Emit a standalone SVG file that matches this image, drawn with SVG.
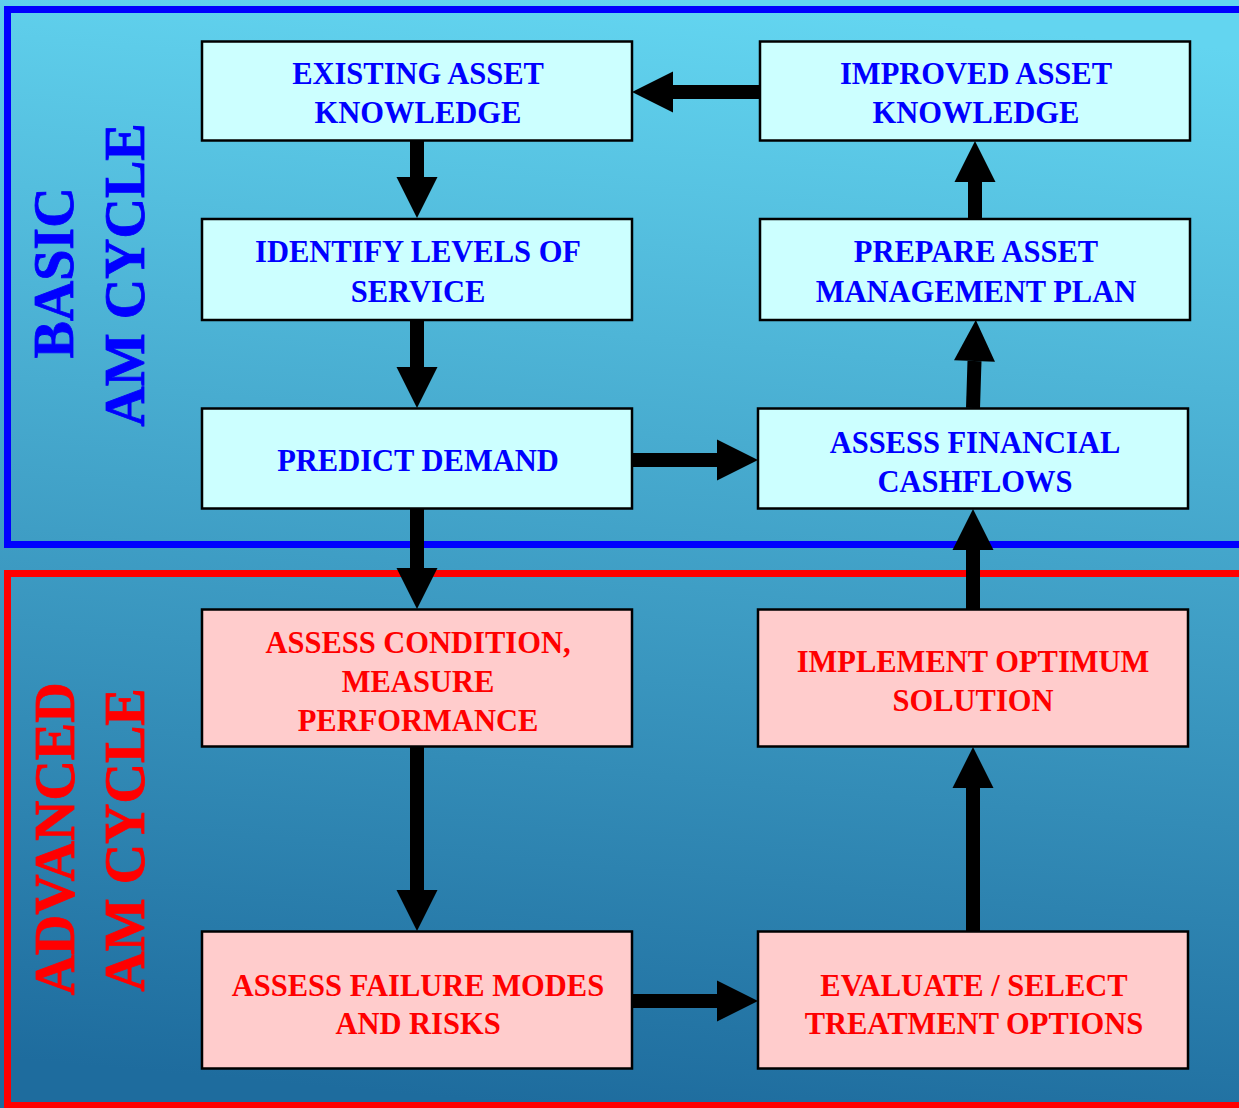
<svg xmlns="http://www.w3.org/2000/svg" width="1239" height="1108" viewBox="0 0 1239 1108">
  <defs>
    <linearGradient id="bg" x1="0.55" y1="0" x2="0.45" y2="1">
      <stop offset="0" stop-color="#63d5f0"/>
      <stop offset="1" stop-color="#1e6c9e"/>
    </linearGradient>
    <marker id="head" markerUnits="userSpaceOnUse" markerWidth="42" markerHeight="42" refX="0" refY="20.5" orient="auto" overflow="visible">
      <path d="M0,0 L41,20.5 L0,41 Z" fill="#000"/>
    </marker>
    <style>
      .basic { fill: #ccffff; stroke: #000; stroke-width: 2.5; }
      .adv { fill: #ffcccc; stroke: #000; stroke-width: 2.5; }
      .t { font-family: "Liberation Serif", "Times New Roman", serif; font-weight: 700; font-size: 30.5px; text-anchor: middle; }
      .tb { fill: #0000ff; }
      .tr { fill: #ff0000; }
      .side { font-family: "Liberation Serif", "Times New Roman", serif; font-weight: 700; font-size: 56px; text-anchor: middle; }
      .sb { fill: #0000ff; stroke: #0000ff; stroke-width: 0.8; }
      .sr { fill: #ff0000; stroke: #ff0000; stroke-width: 0.8; }
      .conn line { stroke: #000; stroke-width: 14; marker-end: url(#head); }
    </style>
  </defs>

  <!-- background -->
  <rect x="0" y="0" width="1239" height="1108" fill="url(#bg)"/>

  <!-- cycle frames -->
  <rect x="7.5" y="9.5" width="1240" height="535" fill="none" stroke="#0000ff" stroke-width="7"/>
  <rect x="7.5" y="573.5" width="1240" height="532" fill="none" stroke="#ff0000" stroke-width="7"/>

  <!-- side titles -->
  <g id="basic-label">
    <text class="side sb" transform="translate(73,273) rotate(-90)">BASIC</text>
    <text class="side sb" transform="translate(144,275) rotate(-90)">AM CYCLE</text>
  </g>
  <g id="advanced-label">
    <text class="side sr" transform="translate(74,839) rotate(-90)">ADVANCED</text>
    <text class="side sr" transform="translate(144,840) rotate(-90)">AM CYCLE</text>
  </g>

  <!-- connectors -->
  <g id="connectors" class="conn">
    <line x1="760" y1="92" x2="673" y2="92"/>
    <line x1="417" y1="141" x2="417" y2="177"/>
    <line x1="417" y1="320" x2="417" y2="367"/>
    <line x1="417" y1="509" x2="417" y2="568"/>
    <line x1="417" y1="747" x2="417" y2="890"/>
    <line x1="632" y1="1001" x2="717" y2="1001"/>
    <line x1="973" y1="931" x2="973" y2="788"/>
    <line x1="973" y1="609" x2="973" y2="550"/>
    <line x1="973" y1="408" x2="974.5" y2="361"/>
    <line x1="975" y1="218" x2="975" y2="182"/>
    <line x1="632" y1="460" x2="717" y2="460"/>
  </g>

  <!-- basic cycle nodes -->
  <g id="existing-knowledge">
    <rect class="basic" x="202" y="41.5" width="430" height="99"/>
    <text class="t tb" x="418" y="84">EXISTING ASSET</text>
    <text class="t tb" x="418" y="123">KNOWLEDGE</text>
  </g>
  <g id="improved-knowledge">
    <rect class="basic" x="760" y="41.5" width="430" height="99"/>
    <text class="t tb" x="976" y="84">IMPROVED ASSET</text>
    <text class="t tb" x="976" y="123">KNOWLEDGE</text>
  </g>
  <g id="levels-of-service">
    <rect class="basic" x="202" y="219" width="430" height="101"/>
    <text class="t tb" x="418" y="262">IDENTIFY LEVELS OF</text>
    <text class="t tb" x="418" y="302">SERVICE</text>
  </g>
  <g id="am-plan">
    <rect class="basic" x="760" y="219" width="430" height="101"/>
    <text class="t tb" x="976" y="262">PREPARE ASSET</text>
    <text class="t tb" x="976" y="302">MANAGEMENT PLAN</text>
  </g>
  <g id="predict-demand">
    <rect class="basic" x="202" y="408.5" width="430" height="100"/>
    <text class="t tb" x="418" y="471">PREDICT DEMAND</text>
  </g>
  <g id="financial-cashflows">
    <rect class="basic" x="758" y="408.5" width="430" height="100"/>
    <text class="t tb" x="975" y="453">ASSESS FINANCIAL</text>
    <text class="t tb" x="975" y="492">CASHFLOWS</text>
  </g>

  <!-- advanced cycle nodes -->
  <g id="assess-condition">
    <rect class="adv" x="202" y="609.5" width="430" height="137"/>
    <text class="t tr" x="418" y="653">ASSESS CONDITION,</text>
    <text class="t tr" x="418" y="692">MEASURE</text>
    <text class="t tr" x="418" y="731">PERFORMANCE</text>
  </g>
  <g id="implement-solution">
    <rect class="adv" x="758" y="609.5" width="430" height="137"/>
    <text class="t tr" x="973" y="672">IMPLEMENT OPTIMUM</text>
    <text class="t tr" x="973" y="711">SOLUTION</text>
  </g>
  <g id="failure-modes">
    <rect class="adv" x="202" y="931.5" width="430" height="137"/>
    <text class="t tr" x="418" y="996">ASSESS FAILURE MODES</text>
    <text class="t tr" x="418" y="1034">AND RISKS</text>
  </g>
  <g id="treatment-options">
    <rect class="adv" x="758" y="931.5" width="430" height="137"/>
    <text class="t tr" x="974" y="996">EVALUATE / SELECT</text>
    <text class="t tr" x="974" y="1034">TREATMENT OPTIONS</text>
  </g>
</svg>
